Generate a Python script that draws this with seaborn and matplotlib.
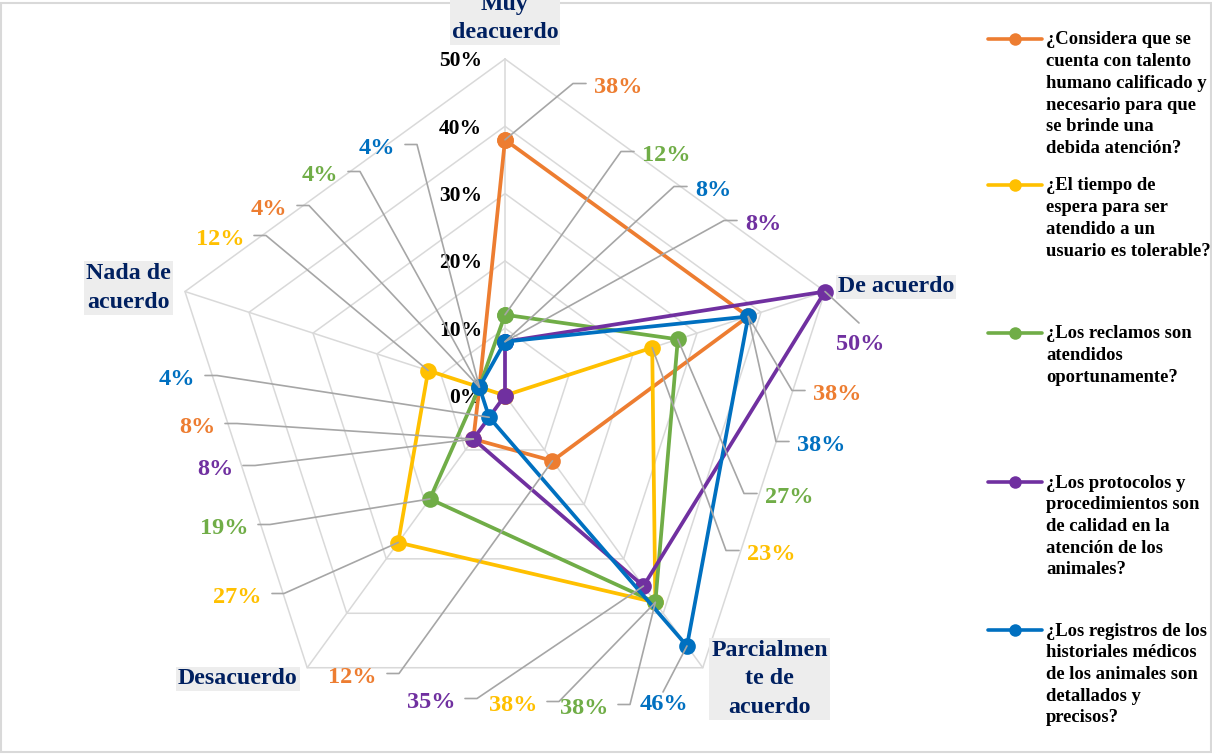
import numpy as np
import pandas as pd
import matplotlib
matplotlib.use("Agg")
import matplotlib.pyplot as plt
from matplotlib.lines import Line2D
from matplotlib.patches import Rectangle
from matplotlib.transforms import offset_copy
import seaborn as sns

# ---------------------------------------------------------------- data
categories = ["Muy\ndeacuerdo", "De acuerdo", "Parcialmen\nte de\nacuerdo",
              "Desacuerdo", "Nada de\nacuerdo"]

series_names = [
    "¿Considera que se\ncuenta con talento\nhumano calificado y\nnecesario para que\nse brinde una\ndebida atención?",
    "¿El tiempo de\nespera para ser\natendido a un\nusuario es tolerable?",
    "¿Los reclamos son\natendidos\noportunamente?",
    "¿Los protocolos y\nprocedimientos son\nde calidad en la\natención de los\nanimales?",
    "¿Los registros de los\nhistoriales médicos\nde los animales son\ndetallados y\nprecisos?",
]

talento = [38, 38, 12, 8, 4]
tiempo = [0, 23, 38, 27, 12]
reclamos = [12, 27, 38, 19, 4]
protocolos = [8, 50, 35, 8, 0]
registros = [8, 38, 46, 4, 4]
values = [talento, tiempo, reclamos, protocolos, registros]

ticks = [0, 10, 20, 30, 40, 50]
tick_labels = ["0%", "10%", "20%", "30%", "40%", "50%"]

# ---------------------------------------------------------------- style
colors = ["#ED7D31", "#FFC000", "#70AD47", "#7030A0", "#0070C0"]
navy = "#002060"
grid_gray = "#D9D9D9"
leader_gray = "#A6A6A6"

sns.set_theme(style="white")
plt.rcParams["font.family"] = ["Liberation Serif", "DejaVu Serif"]
plt.rcParams["font.weight"] = "bold"

W, H = 1212, 754
fig = plt.figure(figsize=(W / 100, H / 100), dpi=100)
fig.patch.set_facecolor("white")


def fx(x):
    return x / W


def fy(y):
    return 1 - y / H


# polar axes: centre at (505, 395.5) px, 50% ring radius ~336 px
ax = fig.add_axes([168.5 / W, 1 - 732 / H, 673 / W, 673 / H], projection="polar")
ax.set_theta_offset(np.pi / 2)
ax.set_theta_direction(-1)
ax.patch.set_alpha(0)

n = len(categories)
angles = np.arange(n) * 2 * np.pi / n
loop = np.append(angles, 2 * np.pi)

# pentagon grid and spokes
for t in ticks[1:]:
    ax.plot(loop, [t / 100] * (n + 1), color=grid_gray, lw=1.1, zorder=0, clip_on=False)
for a in angles:
    ax.plot([a, a], [0, ticks[-1] / 100], color=grid_gray, lw=1.1, zorder=0, clip_on=False)

# series in long form, closed loops
rows = []
for name, vals in zip(series_names, values):
    for k, a in enumerate(loop):
        rows.append({"serie": name, "theta": a, "valor": vals[k % n] / 100})
df = pd.DataFrame(rows)

sns.lineplot(data=df, x="theta", y="valor", hue="serie", hue_order=series_names,
             palette=colors, sort=False, estimator=None, marker="o",
             markersize=12, markeredgewidth=0, linewidth=2.7, legend=False,
             ax=ax, zorder=3)
for ln in ax.lines:
    ln.set_clip_on(False)

ax.set_ylim(0, ticks[-1] / 100)
ax.grid(False)
ax.set_xticks([])
ax.set_yticks([])
ax.spines["polar"].set_visible(False)
ax.set_xlabel("")
ax.set_ylabel("")

# radial tick labels along the top spoke
tick_tr = offset_copy(ax.transData, fig=fig, x=-23, y=0, units="dots")
for t, lab in zip(ticks, tick_labels):
    ax.text(0, t / 100, lab, transform=tick_tr, ha="right", va="center_baseline",
            fontsize=15.5, fontweight="bold", color="black", zorder=2, clip_on=False)

# category labels on grey boxes
cat_pos = [(505, 18.5), (896, 287), (769.5, 679), (238, 679), (128.5, 288)]
for lab, (cx, cy) in zip(categories, cat_pos):
    fig.text(fx(cx), fy(cy), lab, ha="center", va="center", multialignment="center",
             fontsize=17.2, fontweight="bold", color=navy, linespacing=1.47,
             bbox=dict(boxstyle="square,pad=0.08", fc="#EDEDED", ec="none"), zorder=6)

# data labels with leader lines: (series, category, x px, y px, side, leader gap)
label_layout = [
    (0, 0, 594, 85, "left", 0), (2, 0, 642, 153, "left", 0),
    (4, 0, 695, 188, "left", 0), (3, 0, 745, 222, "left", 0),
    (3, 1, 860, 342, "center", 19), (0, 1, 813, 392, "left", 0),
    (4, 1, 797, 443, "left", 0), (2, 1, 765, 495, "left", 0),
    (1, 1, 747, 552, "left", 0),
    (0, 2, 377, 675, "right", 0), (3, 2, 455, 700, "right", 0),
    (1, 2, 537, 703, "right", 0), (2, 2, 608, 706, "right", 0),
    (4, 2, 664, 702, "center", 10),
    (4, 3, 195, 377, "right", 0), (0, 3, 215, 425, "right", 0),
    (3, 3, 233, 467, "right", 0), (2, 3, 248, 526, "right", 0),
    (1, 3, 262, 595, "right", 0),
    (4, 4, 395, 146, "right", 0), (2, 4, 338, 173, "right", 0),
    (0, 4, 287, 207, "right", 0), (1, 4, 244, 237, "right", 0),
]

to_fig = fig.transFigure.inverted()
for s, c, x, y, side, gap in label_layout:
    v = values[s][c]
    pt = to_fig.transform(ax.transData.transform((angles[c], v / 100)))
    if side == "left":
        xs = [fx(x - 8), fx(x - 21), pt[0]]
        ys = [fy(y - 1.5), fy(y - 1.5), pt[1]]
    elif side == "right":
        xs = [fx(x + 10), fx(x + 22), pt[0]]
        ys = [fy(y - 1.5), fy(y - 1.5), pt[1]]
    else:
        xs = [fx(x - 1), pt[0]]
        ys = [fy(y - gap), pt[1]]
    fig.add_artist(Line2D(xs, ys, color=leader_gray, lw=1.2, zorder=7))
    fig.text(fx(x), fy(y), f"{v}%", ha=side, va="center_baseline", fontsize=17.5,
             fontweight="bold", color=colors[s], zorder=8)

# legend
leg_y = [39, 185, 333, 482, 630]
for name, col, y in zip(series_names, colors, leg_y):
    fig.add_artist(Line2D([fx(988), fx(1042)], [fy(y), fy(y)], color=col, lw=2.6))
    fig.add_artist(Line2D([fx(1015)], [fy(y)], color=col, marker="o", markersize=9,
                          markeredgewidth=0, lw=0))
    fig.text(fx(1046), fy(y - 7.5), name, ha="left", va="top", fontsize=13.4,
             fontweight="bold", color="black", linespacing=1.365)

# chart frame
fig.add_artist(Rectangle((fx(0.5), fy(752)), fx(1210.5), (752 - 3) / H,
                         transform=fig.transFigure, fill=False, ec=grid_gray, lw=1.5))

fig.savefig("out.png", dpi=100, facecolor="white")
